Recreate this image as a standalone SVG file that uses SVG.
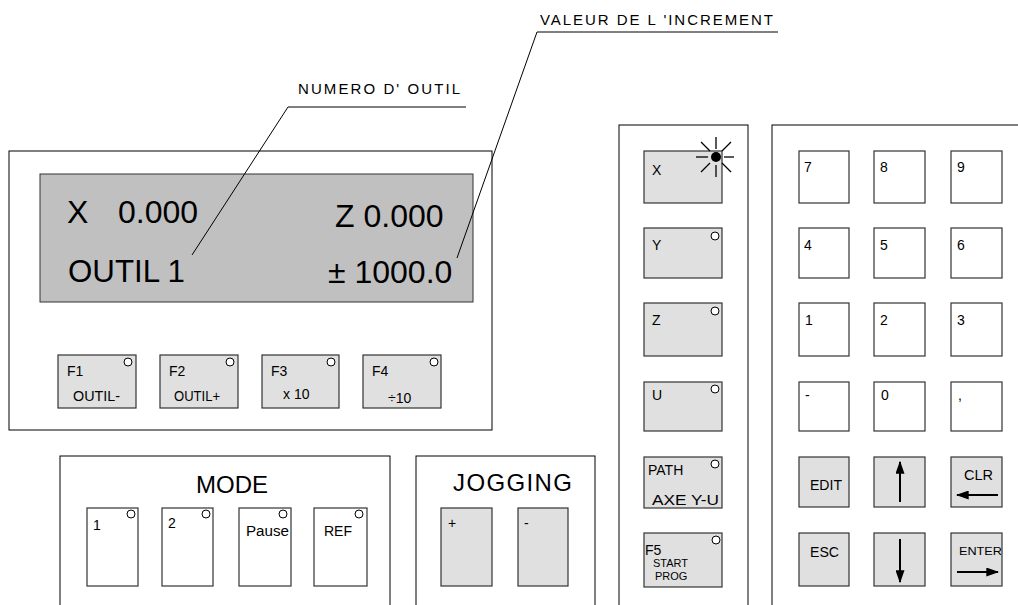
<svg xmlns="http://www.w3.org/2000/svg" width="1018" height="605" viewBox="0 0 1018 605">
<style>
text{font-family:"Liberation Sans",Arial,sans-serif;fill:#000}
.panel{fill:#fff;stroke:#000;stroke-width:1}
.kg{fill:#e0e0e0;stroke:#333;stroke-width:1.2}
.kw{fill:#fff;stroke:#333;stroke-width:1.2}
.led{fill:#fff;stroke:#000;stroke-width:1}
.lead{fill:none;stroke:#000;stroke-width:1}
.lbl{font-size:14px}
.big{font-size:32px}
.ttl{font-size:24px}
.arr{stroke:#000;stroke-width:2}
</style>
<defs>
<marker id="ah" viewBox="0 0 10 10" refX="9" refY="5" markerWidth="6.5" markerHeight="4.5" orient="auto" markerUnits="strokeWidth" preserveAspectRatio="none"><path d="M0,0 L10,5 L0,10 z" fill="#000"/></marker>
</defs>
<rect width="1018" height="605" fill="#fff"/>

<g id="display-panel">
<rect class="panel" x="9" y="151" width="483" height="279"/>
<rect x="40" y="174" width="433" height="128" fill="#c0c0c0" stroke="#333" stroke-width="1"/>
<text class="big" x="67" y="223">X</text>
<text class="big" x="118" y="223">0.000</text>
<text class="big" x="335" y="227">Z 0.000</text>
<text class="big" x="68" y="282" textLength="117" lengthAdjust="spacingAndGlyphs">OUTIL 1</text>
<text class="big" x="328" y="283">± 1000.0</text>
</g>

<g id="f1"><rect class="kg" x="58" y="355" width="78" height="53"/><circle class="led" cx="128" cy="362" r="4"/><text class="lbl" x="67" y="376">F1</text><text class="lbl" x="73" y="401" textLength="47" lengthAdjust="spacingAndGlyphs">OUTIL-</text></g>
<g id="f2"><rect class="kg" x="160" y="355" width="78" height="53"/><circle class="led" cx="230" cy="362" r="4"/><text class="lbl" x="169" y="376">F2</text><text class="lbl" x="174" y="401" textLength="46" lengthAdjust="spacingAndGlyphs">OUTIL+</text></g>
<g id="f3"><rect class="kg" x="262" y="355" width="77" height="53"/><circle class="led" cx="331" cy="362" r="4"/><text class="lbl" x="271" y="376">F3</text><text class="lbl" x="283" y="399">x 10</text></g>
<g id="f4"><rect class="kg" x="363" y="355" width="78" height="53"/><circle class="led" cx="434" cy="362" r="4"/><text class="lbl" x="372" y="376">F4</text><text class="lbl" x="388" y="403">÷10</text></g>

<g id="mode-panel">
<rect class="panel" x="60" y="456" width="330" height="160"/>
<text class="ttl" x="232" y="493" text-anchor="middle">MODE</text>
</g>
<g id="mode-1"><rect class="kw" x="87" y="508" width="51" height="78"/><circle class="led" cx="131" cy="514" r="4"/><text class="lbl" x="93" y="530">1</text></g>
<g id="mode-2"><rect class="kw" x="162" y="508" width="51" height="78"/><circle class="led" cx="206" cy="514" r="4"/><text class="lbl" x="168" y="528">2</text></g>
<g id="mode-pause"><rect class="kw" x="239" y="508" width="52" height="78"/><circle class="led" cx="283" cy="514" r="4"/><text class="lbl" x="246" y="536" textLength="43" lengthAdjust="spacingAndGlyphs">Pause</text></g>
<g id="mode-ref"><rect class="kw" x="314" y="508" width="53" height="78"/><circle class="led" cx="359" cy="514" r="4"/><text class="lbl" x="324" y="536" textLength="28" lengthAdjust="spacingAndGlyphs">REF</text></g>

<g id="jogging-panel">
<rect class="panel" x="416" y="456" width="179" height="160"/>
<text class="ttl" x="453" y="491" textLength="119" lengthAdjust="spacing">JOGGING</text>
</g>
<g id="jog-plus"><rect class="kg" x="441" y="508" width="51" height="78"/><text class="lbl" x="448" y="528">+</text></g>
<g id="jog-minus"><rect class="kg" x="518" y="508" width="50" height="78"/><text class="lbl" x="524" y="528">-</text></g>

<g id="axis-panel">
<rect class="panel" x="619" y="125" width="129" height="495"/>
</g>
<g id="key-x"><rect class="kg" x="644" y="151" width="78" height="52"/><text class="lbl" x="652" y="175">X</text>
<g stroke="#000" stroke-width="1.3">
<line x1="716" y1="149" x2="716" y2="137"/>
<line x1="716" y1="165" x2="716" y2="177"/>
<line x1="708" y1="157" x2="696" y2="157"/>
<line x1="724" y1="157" x2="734" y2="157"/>
<line x1="710" y1="151" x2="701" y2="142"/>
<line x1="722" y1="151" x2="731" y2="142"/>
<line x1="710" y1="163" x2="701" y2="172"/>
<line x1="722" y1="163" x2="731" y2="172"/>
</g>
<circle cx="716" cy="157" r="5" fill="#000"/></g>
<g id="key-y"><rect class="kg" x="644" y="228" width="78" height="50"/><circle class="led" cx="715" cy="236" r="4"/><text class="lbl" x="652" y="250">Y</text></g>
<g id="key-z"><rect class="kg" x="644" y="303" width="78" height="53"/><circle class="led" cx="715" cy="311" r="4"/><text class="lbl" x="652" y="325">Z</text></g>
<g id="key-u"><rect class="kg" x="644" y="382" width="78" height="49"/><circle class="led" cx="715" cy="389" r="4"/><text class="lbl" x="652" y="400">U</text></g>
<g id="key-path"><rect class="kg" x="644" y="457" width="78" height="51"/><circle class="led" cx="715" cy="464" r="4"/><text class="lbl" x="648" y="475">PATH</text><text class="lbl" x="652" y="505" textLength="67" lengthAdjust="spacingAndGlyphs">AXE Y-U</text></g>
<g id="key-f5"><rect class="kg" x="644" y="533" width="78" height="54"/><circle class="led" cx="716" cy="540" r="4"/><text class="lbl" x="645" y="555">F5</text><text x="653" y="567" font-size="11">START</text><text x="655" y="580" font-size="11">PROG</text></g>

<g id="keypad-panel">
<rect class="panel" x="772" y="125" width="260" height="495"/>
</g>
<g id="k7"><rect class="kw" x="799" y="151" width="50" height="52"/><text class="lbl" x="804" y="172">7</text></g>
<g id="k8"><rect class="kw" x="874" y="151" width="51" height="52"/><text class="lbl" x="880" y="172">8</text></g>
<g id="k9"><rect class="kw" x="951" y="151" width="51" height="52"/><text class="lbl" x="957" y="172">9</text></g>
<g id="k4"><rect class="kw" x="799" y="228" width="50" height="50"/><text class="lbl" x="804" y="250">4</text></g>
<g id="k5"><rect class="kw" x="874" y="228" width="51" height="50"/><text class="lbl" x="880" y="250">5</text></g>
<g id="k6"><rect class="kw" x="951" y="228" width="51" height="50"/><text class="lbl" x="957" y="250">6</text></g>
<g id="k1"><rect class="kw" x="799" y="303" width="50" height="53"/><text class="lbl" x="805" y="325">1</text></g>
<g id="k2"><rect class="kw" x="874" y="303" width="51" height="53"/><text class="lbl" x="880" y="325">2</text></g>
<g id="k3"><rect class="kw" x="951" y="303" width="51" height="53"/><text class="lbl" x="957" y="325">3</text></g>
<g id="kminus"><rect class="kw" x="799" y="382" width="50" height="49"/><text class="lbl" x="805" y="400">-</text></g>
<g id="k0"><rect class="kw" x="874" y="382" width="51" height="49"/><text class="lbl" x="881" y="400">0</text></g>
<g id="kcomma"><rect class="kw" x="951" y="382" width="51" height="49"/><text class="lbl" x="958" y="400">,</text></g>
<g id="kedit"><rect class="kg" x="799" y="457" width="50" height="50"/><text class="lbl" x="810" y="490" textLength="32" lengthAdjust="spacingAndGlyphs">EDIT</text></g>
<g id="kup"><rect class="kg" x="874" y="457" width="51" height="50"/><line class="arr" x1="900" y1="502" x2="900" y2="462" marker-end="url(#ah)"/></g>
<g id="kclr"><rect class="kg" x="951" y="457" width="51" height="50"/><text class="lbl" x="964" y="480" textLength="29" lengthAdjust="spacingAndGlyphs">CLR</text><line class="arr" x1="998" y1="495" x2="957" y2="495" marker-end="url(#ah)"/></g>
<g id="kesc"><rect class="kg" x="799" y="533" width="50" height="53"/><text class="lbl" x="810" y="557" textLength="29" lengthAdjust="spacingAndGlyphs">ESC</text></g>
<g id="kdown"><rect class="kg" x="874" y="533" width="51" height="53"/><line class="arr" x1="900" y1="539" x2="900" y2="582" marker-end="url(#ah)"/></g>
<g id="kenter"><rect class="kg" x="951" y="533" width="51" height="53"/><text x="959" y="555" font-size="11" textLength="43" lengthAdjust="spacingAndGlyphs">ENTER</text><line class="arr" x1="957" y1="572" x2="998" y2="572" marker-end="url(#ah)"/></g>

<g id="connectors">
<polyline class="lead" points="466,107 288,107 192,255"/>
<polyline class="lead" points="778,32 537,32 457,258"/>
</g>
<g id="labels">
<text x="298" y="94" font-size="15" textLength="162" lengthAdjust="spacing">NUMERO  D' OUTIL</text>
<text x="540" y="25" font-size="15" textLength="233" lengthAdjust="spacing">VALEUR  DE L 'INCREMENT</text>
</g>
</svg>
